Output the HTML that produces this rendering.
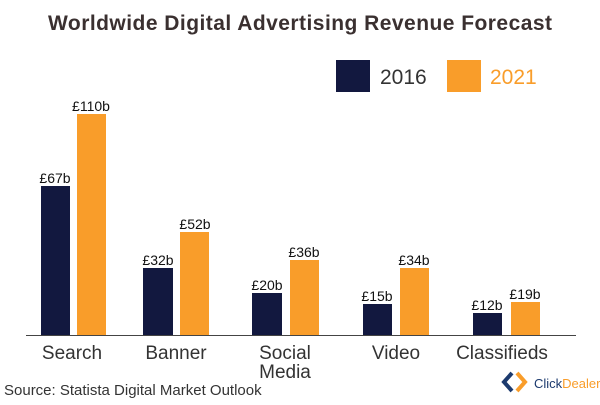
<!DOCTYPE html>
<html><head><style>
body{margin:0;background:#fff;}
svg text{font-family:"Liberation Sans",sans-serif;}
</style></head><body>
<svg width="600" height="400" viewBox="0 0 600 400" xmlns="http://www.w3.org/2000/svg">
<rect width="600" height="400" fill="#fff"/>
<text x="300" y="30" text-anchor="middle" font-size="21" font-weight="bold" fill="#3a3030" textLength="504">Worldwide Digital Advertising Revenue Forecast</text>
<rect x="336" y="60" width="34" height="32" fill="#12183f"/>
<text x="380" y="84" font-size="21" fill="#333">2016</text>
<rect x="447" y="60" width="34" height="32" fill="#f99d2a"/>
<text x="490" y="84" font-size="21" fill="#f99d2a">2021</text>
<g fill="#12183f">
<rect x="41" y="186" width="29" height="149"/>
<rect x="143" y="268" width="30" height="67"/>
<rect x="252" y="293" width="30" height="42"/>
<rect x="363" y="304" width="29" height="31"/>
<rect x="473" y="313" width="29" height="22"/>
</g>
<g fill="#f99d2a">
<rect x="77" y="114" width="29" height="221"/>
<rect x="180" y="232" width="29" height="103"/>
<rect x="290" y="260" width="29" height="75"/>
<rect x="400" y="268" width="29" height="67"/>
<rect x="511" y="302" width="29" height="33"/>
</g>
<line x1="26" y1="335.5" x2="576" y2="335.5" stroke="#444" stroke-width="1"/>
<g font-size="14" fill="#111" text-anchor="middle">
<text x="55" y="183">£67b</text><text x="91" y="111">£110b</text>
<text x="158" y="265">£32b</text><text x="195" y="229">£52b</text>
<text x="267" y="290">£20b</text><text x="304" y="257">£36b</text>
<text x="377" y="301">£15b</text><text x="414" y="265">£34b</text>
<text x="487" y="310">£12b</text><text x="525" y="299">£19b</text>
</g>
<g font-size="19" fill="#333" text-anchor="middle">
<text x="72" y="359">Search</text>
<text x="176" y="359">Banner</text>
<text x="285" y="359">Social</text>
<text x="285" y="378">Media</text>
<text x="396" y="359">Video</text>
<text x="502" y="359">Classifieds</text>
</g>
<text x="4" y="395" font-size="15" fill="#333">Source: Statista Digital Market Outlook</text>
<path d="M512 373 L504 382 L512 391" stroke="#1c3a6e" stroke-width="4" fill="none"/>
<path d="M517 373 L525 382 L517 391" stroke="#f99d2a" stroke-width="4" fill="none"/>
<text x="534" y="388" font-size="13" fill="#1c3a6e">Click<tspan fill="#f99d2a">Dealer</tspan></text>
</svg>
</body></html>
